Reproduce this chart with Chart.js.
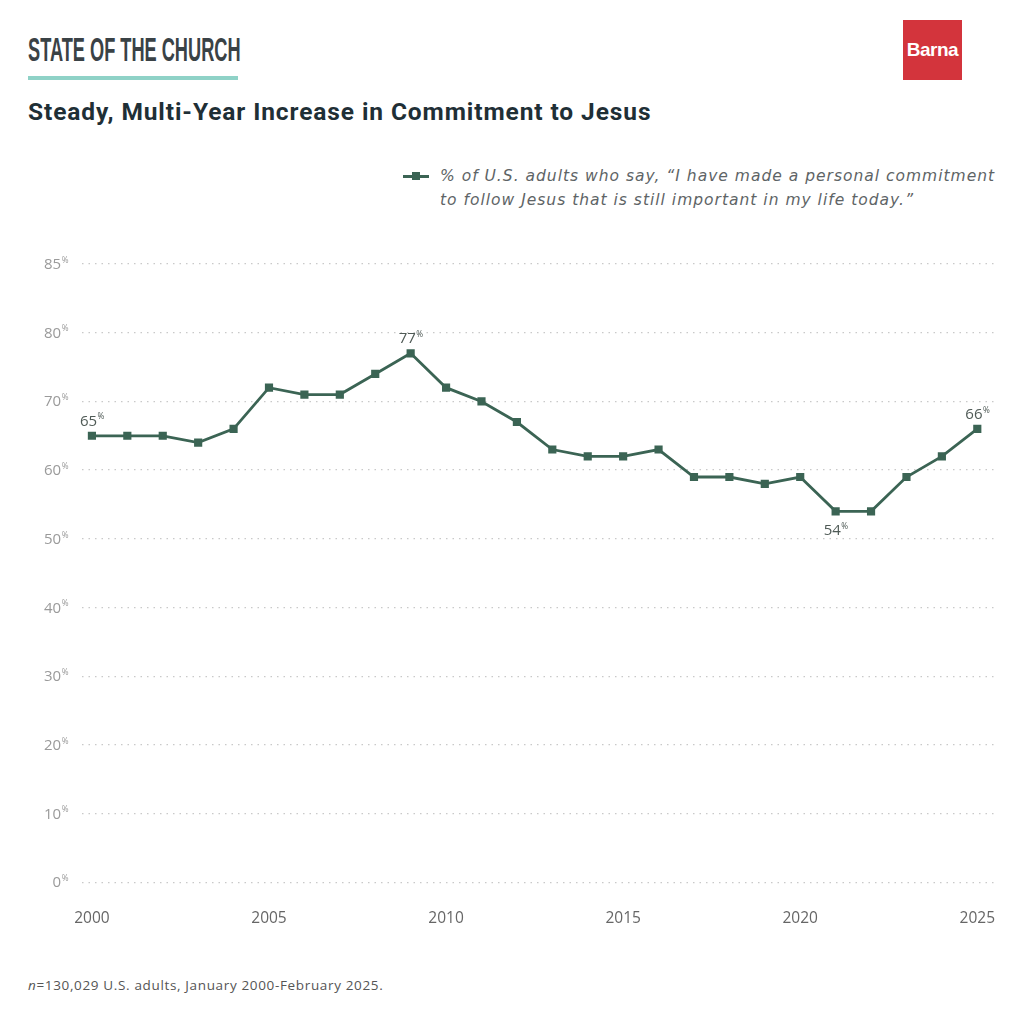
<!DOCTYPE html>
<html>
<head>
<meta charset="utf-8">
<script src="https://cdn.jsdelivr.net/npm/chart.js@4"></script>
<style>
  html, body { margin: 0; padding: 0; background: #fff; }
  #page { position: relative; width: 1024px; height: 1024px; overflow: hidden; font-family: "Open Sans", sans-serif; }
  #kicker { position: absolute; left: 28px; top: 30px; font-family: "Liberation Sans Narrow", sans-serif; font-weight: 700; font-size: 34px; color: #3a4246; transform: scaleX(0.535); transform-origin: left top; letter-spacing: 0px; white-space: nowrap; }
  #rule { position: absolute; left: 28px; top: 76px; width: 210px; height: 4px; background: #8fd2c7; }
  #logo { position: absolute; left: 903px; top: 20px; width: 59px; height: 60px; background: #d3343c; color: #fff; font-family: "Liberation Sans Narrow", sans-serif; font-weight: 700; font-size: 19px; line-height: 60px; text-align: center; letter-spacing: -0.5px; }
  #title { position: absolute; left: 28px; top: 97px; font-family: Roboto, sans-serif; font-weight: 700; font-size: 24.5px; color: #1f2f36; letter-spacing: 0.9px; white-space: nowrap; }
  #legend { position: absolute; left: 403px; top: 164px; }
  #legend .mark { position: absolute; left: 0; top: 11px; width: 26px; height: 2.5px; background: #3b6454; }
  #legend .mark::after { content: ""; position: absolute; left: 9px; top: -3px; width: 8px; height: 8px; background: #3b6454; }
  #legend .txt { position: absolute; left: 37px; top: 0; font-family: "DejaVu Sans", sans-serif; font-style: italic; font-size: 15.5px; line-height: 24px; color: #5e6466; white-space: nowrap; letter-spacing: 1px; }
  #wrap { position: absolute; left: 0; top: 240px; width: 1024px; height: 729px; }
  #note { position: absolute; left: 28px; top: 976px; font-size: 13.5px; color: #555; letter-spacing: 0.65px; white-space: nowrap; }
</style>
</head>
<body>
<div id="page">
  <div id="kicker">STATE OF THE CHURCH</div>
  <div id="rule"></div>
  <div id="logo">Barna</div>
  <div id="title">Steady, Multi-Year Increase in Commitment to Jesus</div>
  <div id="legend">
    <div class="mark"></div>
    <div class="txt">% of U.S. adults who say, “I have made a personal commitment<br>to follow Jesus that is still important in my life today.”</div>
  </div>
  <div id="wrap"><canvas id="grafico"></canvas></div>
  <div id="note"><i>n</i>=130,029 U.S. adults, January 2000-February 2025.</div>
</div>

<script>
// dados do gráfico
const anos = [2000, 2001, 2002, 2003, 2004, 2005, 2006, 2007, 2008, 2009, 2010, 2011, 2012,
  2013, 2014, 2015, 2016, 2017, 2018, 2019, 2020, 2021, 2022, 2023, 2024, 2025];
const compromisso = [65, 65, 65, 64, 66, 72, 71, 71, 74, 77, 72, 70, 67,
  63, 62, 62, 63, 59, 59, 58, 59, 54, 54, 59, 62, 66];
const anosTicks = [2000, 2005, 2010, 2015, 2020, 2025];
// grid values and the labels shown for them (top line is labelled 85)
const yTicks = [0, 10, 20, 30, 40, 50, 60, 70, 80, 90];
const yTickLabels = ["0", "10", "20", "30", "40", "50", "60", "70", "80", "85"];
// points that carry a value label: index -> above/below
const rotulos = { 0: "above", 9: "above", 21: "below", 25: "above" };

const verde = "#3b6454";

// texto com % pequeno em sobrescrito
function desenharPct(ctx, txt, x, y, size, color, align) {
  ctx.save();
  ctx.fillStyle = color;
  ctx.textBaseline = "alphabetic";
  ctx.font = `${size}px "Open Sans"`;
  const w1 = ctx.measureText(txt).width;
  ctx.font = `${size * 0.55}px "Open Sans"`;
  const w2 = ctx.measureText("%").width;
  let x0 = x;
  if (align === "right") x0 = x - w1 - w2;
  if (align === "center") x0 = x - (w1 + w2) / 2;
  ctx.font = `${size}px "Open Sans"`;
  ctx.fillText(txt, x0, y);
  ctx.font = `${size * 0.55}px "Open Sans"`;
  ctx.fillText("%", x0 + w1 + 0.5, y - size * 0.42);
  ctx.restore();
}

const rotulosPlugin = {
  id: "rotulos",
  afterDraw(chart) {
    const ctx = chart.ctx;
    const yScale = chart.scales.y;
    yTicks.forEach((v, i) => {
      const py = yScale.getPixelForValue(v);
      desenharPct(ctx, yTickLabels[i], 68, py + 5, 15, "#9a9a9a", "right");
    });
    const meta = chart.getDatasetMeta(0);
    Object.keys(rotulos).forEach(k => {
      const p = meta.data[k];
      const dy = rotulos[k] === "above" ? -10 : 24;
      desenharPct(ctx, String(compromisso[k]), p.x, p.y + dy, 15, "#4f5a56", "center");
    });
  }
};

new Chart(document.getElementById("grafico"), {
  type: "line",
  data: {
    labels: anos,
    datasets: [{
      data: anos.map((a, i) => ({ x: a, y: compromisso[i] })),
      borderColor: verde,
      backgroundColor: verde,
      borderWidth: 2.8,
      pointStyle: "rect",
      pointRadius: 3.8,
      pointHoverRadius: 3.8,
      tension: 0
    }]
  },
  options: {
    responsive: true,
    maintainAspectRatio: false,
    animation: false,
    events: [],
    layout: { padding: { left: 82, right: 29, top: 24, bottom: 14 } },
    plugins: { legend: { display: false }, tooltip: { enabled: false } },
    scales: {
      x: {
        type: "linear",
        min: 1999.72,
        max: 2025.5,
        afterBuildTicks: s => { s.ticks = anosTicks.map(v => ({ value: v })); },
        grid: { display: false, drawTicks: false },
        border: { display: false },
        ticks: {
          padding: 27,
          color: "#666",
          font: { family: "Open Sans", size: 15.5 },
          callback: v => String(v)
        }
      },
      y: {
        min: 0,
        max: 90,
        afterBuildTicks: s => { s.ticks = yTicks.map(v => ({ value: v })); },
        grid: { color: "#c9c9c9", lineWidth: 1.3, drawTicks: false },
        border: { display: false, dash: [1.5, 5] },
        ticks: { display: false }
      }
    }
  },
  plugins: [rotulosPlugin]
});
</script>
</body>
</html>
